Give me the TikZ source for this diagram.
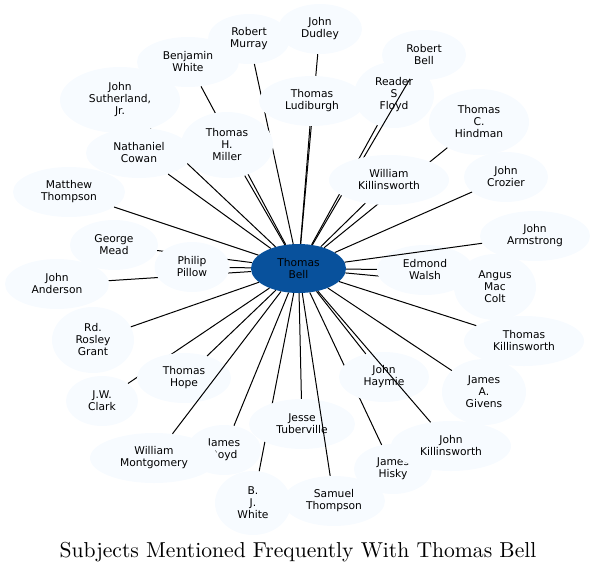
\documentclass[tikz,border=0pt]{standalone}
\usepackage{fontspec}
\usepackage{tikz}
\usetikzlibrary{shapes.geometric}

\newfontfamily\namefont{DejaVu Sans}
\newfontfamily\titlefont{lmroman10-regular}[Extension=.otf]
\definecolor{leafblue}{HTML}{F7FBFF}
\definecolor{hubblue}{HTML}{08519C}

\begin{document}
\begin{tikzpicture}[
        x=1pt, y=-1pt,
        person/.style={ellipse, fill=leafblue, inner sep=0pt, minimum height=50pt, align=center, font=\namefont\fontsize{10.7}{12}\selectfont},
        tallperson/.style={person, minimum height=66pt},
        hub/.style={ellipse, fill=hubblue, inner sep=0pt, minimum width=95pt, minimum height=49pt, align=center, font=\namefont\fontsize{10.7}{12}\selectfont},
        link/.style={line width=1pt}
      ]
        \useasboundingbox (0,0) rectangle (597,574);

        % Centre
        \node[hub] (bell) at (298.5,268.5) {Thomas\\Bell};

        % Top left
        \node[person, minimum width=84pt] (dudley) at (320,29) {John\\Dudley};
        \draw[link] (bell) -- (dudley);
        \node[person, minimum width=82pt] (murray) at (249,39) {Robert\\Murray};
        \draw[link] (bell) -- (murray);
        \node[person, minimum width=102pt] (bwhite) at (188,62) {Benjamin\\White};
        \draw[link] (bell) -- (bwhite);
        \node[tallperson, minimum width=120pt] (sutherland) at (120,100) {John\\Sutherland,\\Jr.};
        \draw[link] (bell) -- (sutherland);
        \node[person, minimum width=106pt] (ludiburgh) at (312,101) {Thomas\\Ludiburgh};
        \draw[link] (bell) -- (ludiburgh);
        \node[tallperson, minimum width=92pt] (miller) at (227,145) {Thomas\\H.\\Miller};
        \draw[link] (bell) -- (miller);
        \node[person, minimum width=106pt] (cowan) at (139,153) {Nathaniel\\Cowan};
        \draw[link] (bell) -- (cowan);

        % Left
        \node[person, minimum width=112pt] (mthompson) at (69,192) {Matthew\\Thompson};
        \draw[link] (bell) -- (mthompson);
        \node[person, minimum width=88pt] (mead) at (114,245) {George\\Mead};
        \draw[link] (bell) -- (mead);
        \node[person, minimum width=104pt] (anderson) at (57,284) {John\\Anderson};
        \draw[link] (bell) -- (anderson);
        \node[person, minimum width=75pt] (pillow) at (192,267) {Philip\\Pillow};
        \draw[link] (bell) -- (pillow);
        \node[tallperson, minimum width=82pt] (grant) at (93,340) {Rd.\\Rosley\\Grant};
        \draw[link] (bell) -- (grant);

        % Bottom left
        \node[person, minimum width=72pt] (clark) at (102,401) {J.W.\\Clark};
        \draw[link] (bell) -- (clark);
        \node[person, minimum width=94pt] (hope) at (184,378) {Thomas\\Hope};
        \draw[link] (bell) -- (hope);
        \node[person, minimum width=74pt] (boyd) at (224,450) {James\\Boyd};
        \draw[link] (bell) -- (boyd);
        \node[person, minimum width=128pt] (montgomery) at (154,458) {William\\Montgomery};
        \draw[link] (bell) -- (montgomery);
        \node[tallperson, minimum width=76pt, minimum height=64pt] (bjwhite) at (253,503) {B.\\J.\\White};
        \draw[link] (bell) -- (bjwhite);
        \node[person, minimum width=106pt] (tuberville) at (302,424) {Jesse\\Tuberville};
        \draw[link] (bell) -- (tuberville);

        % Bottom right
        \node[person, minimum width=102pt] (sthompson) at (334,501) {Samuel\\Thompson};
        \draw[link] (bell) -- (sthompson);
        \node[person, minimum width=78pt] (hisky) at (393,469) {James\\Hisky};
        \draw[link] (bell) -- (hisky);
        \node[person, minimum width=90pt] (haymie) at (384,377) {John\\Haymie};
        \draw[link] (bell) -- (haymie);
        \node[person, minimum width=120pt] (jkillinsworth) at (451,446) {John\\Killinsworth};
        \draw[link] (bell) -- (jkillinsworth);
        \node[tallperson, minimum width=84pt] (givens) at (484,392) {James\\A.\\Givens};
        \draw[link] (bell) -- (givens);
        \node[person, minimum width=120pt] (tkillinsworth) at (524,341) {Thomas\\Killinsworth};
        \draw[link] (bell) -- (tkillinsworth);

        % Right
        \node[tallperson, minimum width=82pt] (colt) at (495,287) {Angus\\Mac\\Colt};
        \draw[link] (bell) -- (colt);
        \node[person, minimum width=96pt] (walsh) at (425,270) {Edmond\\Walsh};
        \draw[link] (bell) -- (walsh);
        \node[person, minimum width=110pt] (armstrong) at (535,236) {John\\Armstrong};
        \draw[link] (bell) -- (armstrong);
        \node[person, minimum width=84pt] (crozier) at (506,177) {John\\Crozier};
        \draw[link] (bell) -- (crozier);

        % Top right
        \node[tallperson, minimum width=100pt] (hindman) at (479,122) {Thomas\\C.\\Hindman};
        \draw[link] (bell) -- (hindman);
        \node[tallperson, minimum width=80pt] (floyd) at (394,95) {Reader\\S\\Floyd};
        \draw[link] (bell) -- (floyd);
        \node[person, minimum width=84pt] (rbell) at (424,55) {Robert\\Bell};
        \draw[link] (bell) -- (rbell);
        \node[person, minimum width=120pt] (wkillinsworth) at (389,180) {William\\Killinsworth};
        \draw[link] (bell) -- (wkillinsworth);

        % Title
        \node[anchor=base, inner sep=0pt, font=\titlefont\fontsize{21.6}{26}\selectfont] (title) at (298,557) {Subjects Mentioned Frequently With Thomas Bell};
      \end{tikzpicture}
\end{document}
